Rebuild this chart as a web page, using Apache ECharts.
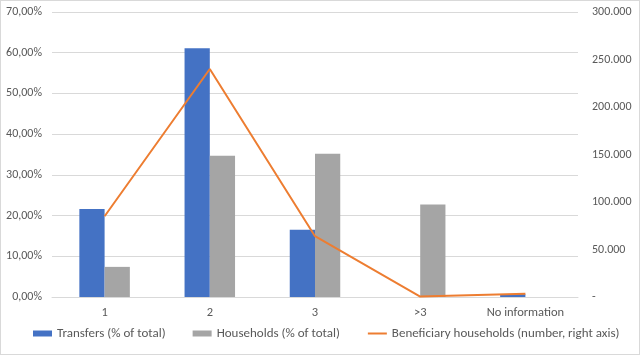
<!DOCTYPE html>
<html><head><meta charset="utf-8">
<script src="https://cdn.jsdelivr.net/npm/echarts@6/dist/echarts.min.js"></script>
<style>html,body{margin:0;padding:0;background:#fff}#c{width:640px;height:355px;box-sizing:border-box;border:1px solid #d9d9d9}</style>
</head><body><div id="c"></div>
<script>
const categories = ['1', '2', '3', '>3', 'No information'];
const transfersPct = [21.6, 61.1, 16.5, 0, 0.7];
const householdsPct = [7.4, 34.7, 35.2, 22.7, 0];
const beneficiaryHouseholds = [85000, 240000, 64000, 500, 3500];
const leftTicks = [0, 10, 20, 30, 40, 50, 60, 70];
const rightTicks = [0, 50000, 100000, 150000, 200000, 250000, 300000];

const chart = echarts.init(document.getElementById('c'));
const fmtThousands = v => v === 0 ? '-' : String(v).replace(/\B(?=(\d{3})+(?!\d))/g, '.');
const font = 'Calibri, Carlito, "Liberation Sans", sans-serif';
chart.setOption({
  animation: false,
  textStyle: {fontFamily: font},
  grid: {left: 51, right: 61, top: 11, bottom: 57},
  legend: {
    left: 32, top: 326, width: 606, padding: 0, itemGap: 27, itemWidth: 19, itemHeight: 6,
    textStyle: {color: '#595959', fontSize: 13, fontFamily: font},
    data: [
      {name: 'Transfers (% of total)', icon: 'rect'},
      {name: 'Households (% of total)', icon: 'rect'},
      {name: 'Beneficiary households (number, right axis)', itemStyle: {opacity: 0}}
    ]
  },
  xAxis: {
    type: 'category', data: categories,
    axisLine: {lineStyle: {color: '#d9d9d9'}},
    axisTick: {show: false},
    axisLabel: {color: '#595959', fontSize: 12.5, margin: 9}
  },
  yAxis: [
    {type: 'value', min: 0, max: 70, interval: 10,
     axisLabel: {color: '#595959', fontSize: 12, margin: 10, formatter: v => v.toFixed(2).replace('.', ',') + '%'},
     splitLine: {lineStyle: {color: '#d9d9d9'}}, axisLine: {show: false}},
    {type: 'value', min: 0, max: 300000, interval: 50000,
     axisLabel: {color: '#595959', fontSize: 12, margin: 14, formatter: fmtThousands},
     splitLine: {show: false}, axisLine: {show: false}}
  ],
  series: [
    {name: 'Transfers (% of total)', type: 'bar', data: transfersPct, barWidth: '24%', barGap: '0%',
     itemStyle: {color: '#4472C4'}},
    {name: 'Households (% of total)', type: 'bar', data: householdsPct, barWidth: '24%',
     itemStyle: {color: '#A5A5A5'}},
    {name: 'Beneficiary households (number, right axis)', type: 'line', yAxisIndex: 1,
     data: beneficiaryHouseholds, symbol: 'none', lineStyle: {color: '#ED7D31', width: 2},
     itemStyle: {color: '#ED7D31'}}
  ]
});
</script></body></html>
